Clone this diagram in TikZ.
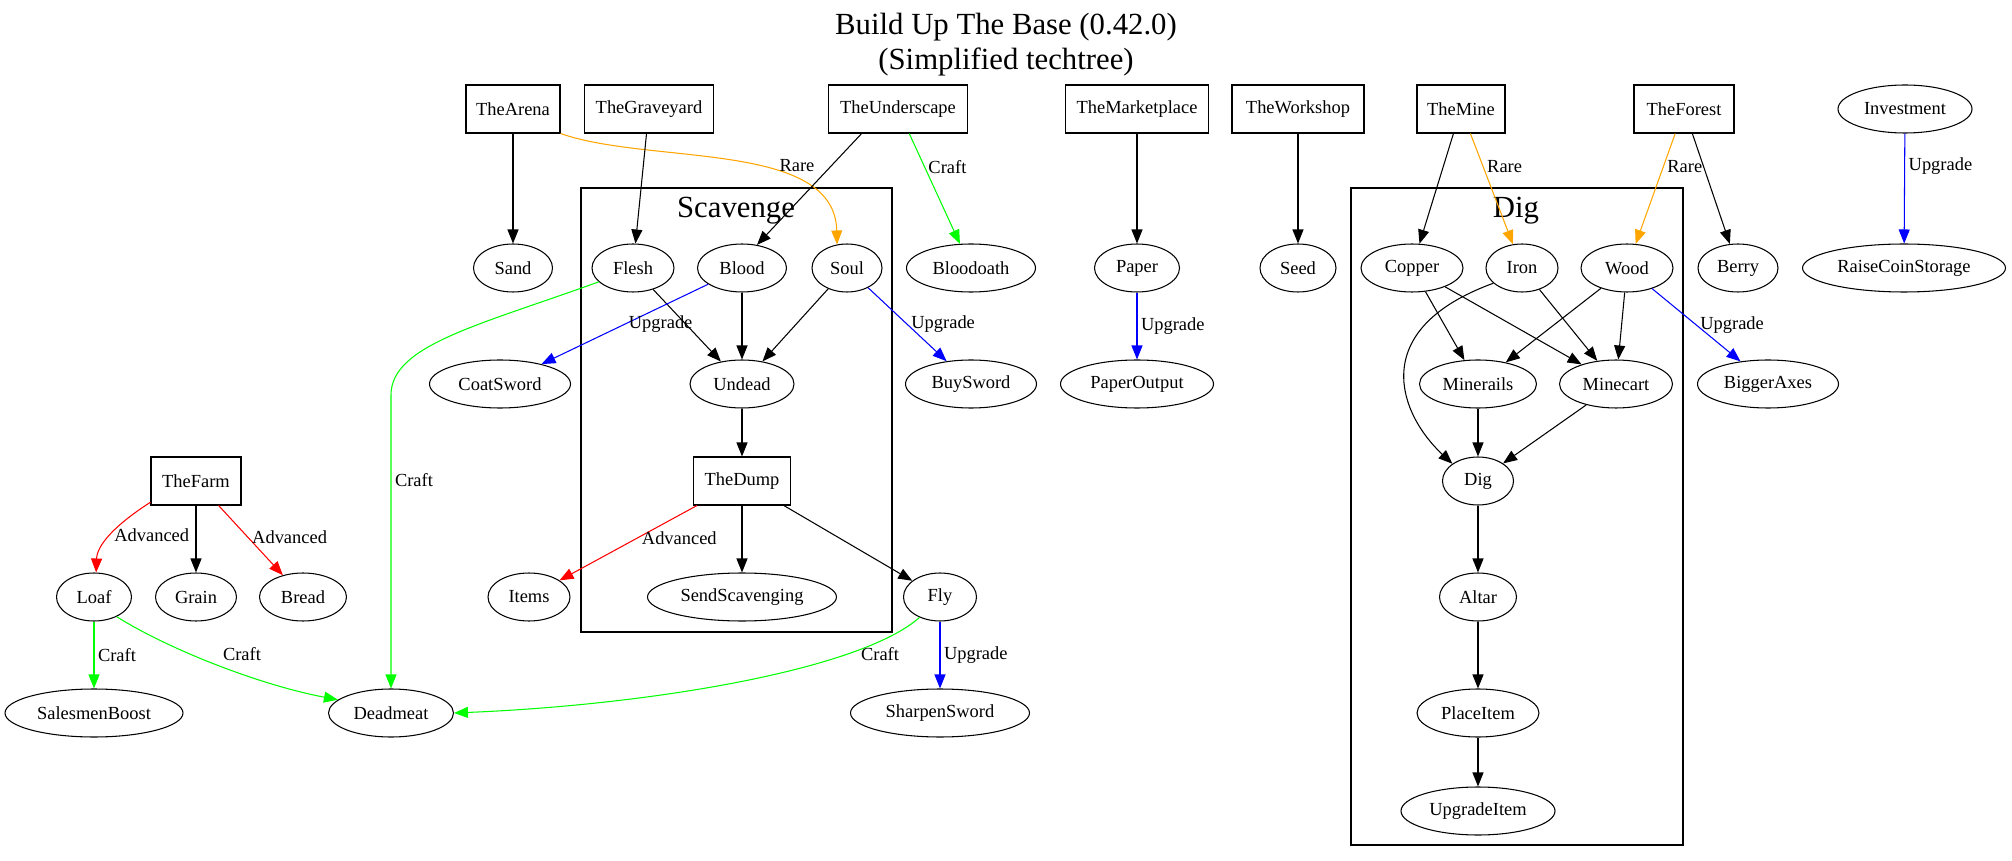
\documentclass[tikz,border=0pt]{standalone}
\usepackage{fontspec}
\setmainfont{Liberation Serif}
\usetikzlibrary{arrows.meta,shapes.geometric}

\definecolor{gvorange}{RGB}{255,165,0}
\definecolor{gvgreen}{RGB}{0,255,0}
\definecolor{gvblue}{RGB}{0,0,255}
\definecolor{gvred}{RGB}{255,0,0}

\tikzset{
  site/.style={rectangle, draw, minimum width=#1*0.02cm, minimum height=0.96cm, inner sep=0pt},
  res/.style={ellipse, draw, minimum width=#1*0.02cm, minimum height=0.96cm, inner sep=0pt},
  lbl/.style={inner sep=2pt, text=black},
  bigtext/.style={font=\fontsize{17.5}{21}\selectfont, inner sep=0pt},
  cluster/.style={draw},
  rare/.style={gvorange},
  craft/.style={gvgreen},
  upgrade/.style={gvblue},
  advanced/.style={gvred}
}

\begin{document}
\begin{tikzpicture}[x=0.02cm, y=-0.02cm, line width=0.6pt,
    font=\fontsize{10.5}{12}\selectfont, >={Triangle[length=2.8mm, width=2.2mm]}]
  \useasboundingbox (0,0) rectangle (2012,861);

  % ==== TITLE ====
  \node[bigtext, anchor=base] (title) at (1006,35) {Build Up The Base (0.42.0)};
  \node[bigtext, anchor=base] (subtitle) at (1006,70) {(Simplified techtree)};

  % ==== CLUSTERS ====
  \draw[cluster] (581,188) rectangle (892,632);
  \node[bigtext, anchor=base] (scavenge) at (736,218) {Scavenge};
  \draw[cluster] (1351,188) rectangle (1683,845);
  \node[bigtext, anchor=base] (digtitle) at (1516,218) {Dig};

  % ==== BUILDINGS ====
  \node[site=94] (arena) at (513,109) {TheArena};
  \node[site=129] (graveyard) at (649,109) {TheGraveyard};
  \node[site=139] (underscape) at (898,109) {TheUnderscape};
  \node[site=143] (marketplace) at (1137,109) {TheMarketplace};
  \node[site=132] (workshop) at (1298,109) {TheWorkshop};
  \node[site=88] (mine) at (1461,109) {TheMine};
  \node[site=100] (forest) at (1684,109) {TheForest};
  \node[res=134] (investment) at (1905,109) {Investment};
  \node[site=90] (farm) at (196,481) {TheFarm};
  \node[site=97] (dump) at (742,481) {TheDump};

  % ==== RESOURCES ====
  \node[res=79] (sand) at (513,268) {Sand};
  \node[res=82] (flesh) at (633,268) {Flesh};
  \node[res=89] (blood) at (742,268) {Blood};
  \node[res=70] (soul) at (847,268) {Soul};
  \node[res=129] (bloodoath) at (971,268) {Bloodoath};
  \node[res=85] (paper) at (1137,268) {Paper};
  \node[res=76] (seed) at (1298,268) {Seed};
  \node[res=102] (copper) at (1412,268) {Copper};
  \node[res=72] (iron) at (1522,268) {Iron};
  \node[res=92] (wood) at (1627,268) {Wood};
  \node[res=80] (berry) at (1738,268) {Berry};
  \node[res=203] (raisecoin) at (1904,268) {RaiseCoinStorage};

  \node[res=141] (coatsword) at (500,384) {CoatSword};
  \node[res=104] (undead) at (742,384) {Undead};
  \node[res=131] (buysword) at (971,384) {BuySword};
  \node[res=153] (paperout) at (1137,384) {PaperOutput};
  \node[res=117] (minerails) at (1478,384) {Minerails};
  \node[res=113] (minecart) at (1616,384) {Minecart};
  \node[res=141] (biggeraxes) at (1768,384) {BiggerAxes};

  \node[res=71] (dig) at (1478,481) {Dig};

  \node[res=75] (loaf) at (94,597) {Loaf};
  \node[res=81] (grain) at (196,597) {Grain};
  \node[res=87] (bread) at (303,597) {Bread};
  \node[res=82] (items) at (529,597) {Items};
  \node[res=189] (sendscav) at (742,597) {SendScavenging};
  \node[res=73] (fly) at (940,597) {Fly};
  \node[res=77] (altar) at (1478,597) {Altar};

  \node[res=178] (salesmen) at (94,713) {SalesmenBoost};
  \node[res=125] (deadmeat) at (391,713) {Deadmeat};
  \node[res=179] (sharpen) at (940,713) {SharpenSword};
  \node[res=122] (placeitem) at (1478,713) {PlaceItem};
  \node[res=154] (upgradeitem) at (1478,811) {UpgradeItem};

  % ==== EDGES ====
  \draw[->] (arena) -- (sand);
  \draw[->, rare] (arena.south east) .. controls (650,165) and (835,140) .. (soul.113)
      node[lbl] at (797,166) {Rare};
  \draw[->] (graveyard) -- (flesh);
  \draw[->] (underscape.-146) -- (blood.57);
  \draw[->, craft] (underscape) -- node[lbl, pos=0.3, right] {Craft} (bloodoath);
  \draw[->] (flesh) -- (undead);
  \draw[->, craft] (flesh.202) .. controls (480,325) and (391,345) .. (391,395)
      -- node[lbl, pos=0.29, right] {Craft} (deadmeat);
  \draw[->] (blood) -- (undead);
  \draw[->, upgrade] (blood) -- node[lbl, pos=0.5, right] {Upgrade} (coatsword);
  \draw[->] (soul) -- (undead);
  \draw[->, upgrade] (soul) -- node[lbl, pos=0.5, right] {Upgrade} (buysword);
  \draw[->] (undead) -- (dump);
  \draw[->, advanced] (dump) -- node[lbl, pos=0.43, right] {Advanced} (items);
  \draw[->] (dump) -- (sendscav);
  \draw[->] (dump) -- (fly);

  \draw[->, advanced] (farm.205) .. controls (115,525) and (97,545) .. (loaf.85)
      node[lbl, pos=0.5, right] {Advanced};
  \draw[->] (farm) -- (grain);
  \draw[->, advanced] (farm) -- node[lbl, pos=0.46, right] {Advanced} (bread);
  \draw[->, craft] (loaf) -- node[lbl, pos=0.5, right] {Craft} (salesmen);
  \draw[->, craft] (loaf.-41) .. controls (170,650) and (260,685) .. (deadmeat.166)
      node[lbl] at (242,654) {Craft};
  \draw[->, craft] (fly.225) .. controls (860,670) and (650,705) .. (deadmeat.east)
      node[lbl] at (880,654) {Craft};
  \draw[->, upgrade] (fly) -- node[lbl, pos=0.5, right] {Upgrade} (sharpen);

  \draw[->] (marketplace) -- (paper);
  \draw[->, upgrade] (paper) -- node[lbl, pos=0.5, right] {Upgrade} (paperout);
  \draw[->] (workshop) -- (seed);
  \draw[->] (mine) -- (copper);
  \draw[->, rare] (mine) -- node[lbl, pos=0.3, right] {Rare} (iron);
  \draw[->, rare] (forest) -- node[lbl, pos=0.3, right] {Rare} (wood);
  \draw[->] (forest) -- (berry);
  \draw[->, upgrade] (investment) -- node[lbl, pos=0.3, right] {Upgrade} (raisecoin);

  \draw[->] (copper) -- (minerails);
  \draw[->] (copper) -- (minecart);
  \draw[->] (iron) -- (minecart);
  \draw[->] (iron.208) .. controls (1365,330) and (1400,415) .. (dig.146);
  \draw[->] (wood) -- (minerails);
  \draw[->] (wood) -- (minecart);
  \draw[->, upgrade] (wood) -- node[lbl, pos=0.5, right] {Upgrade} (biggeraxes);
  \draw[->] (minerails) -- (dig);
  \draw[->] (minecart) -- (dig);
  \draw[->] (dig) -- (altar);
  \draw[->] (altar) -- (placeitem);
  \draw[->] (placeitem) -- (upgradeitem);
\end{tikzpicture}
\end{document}
